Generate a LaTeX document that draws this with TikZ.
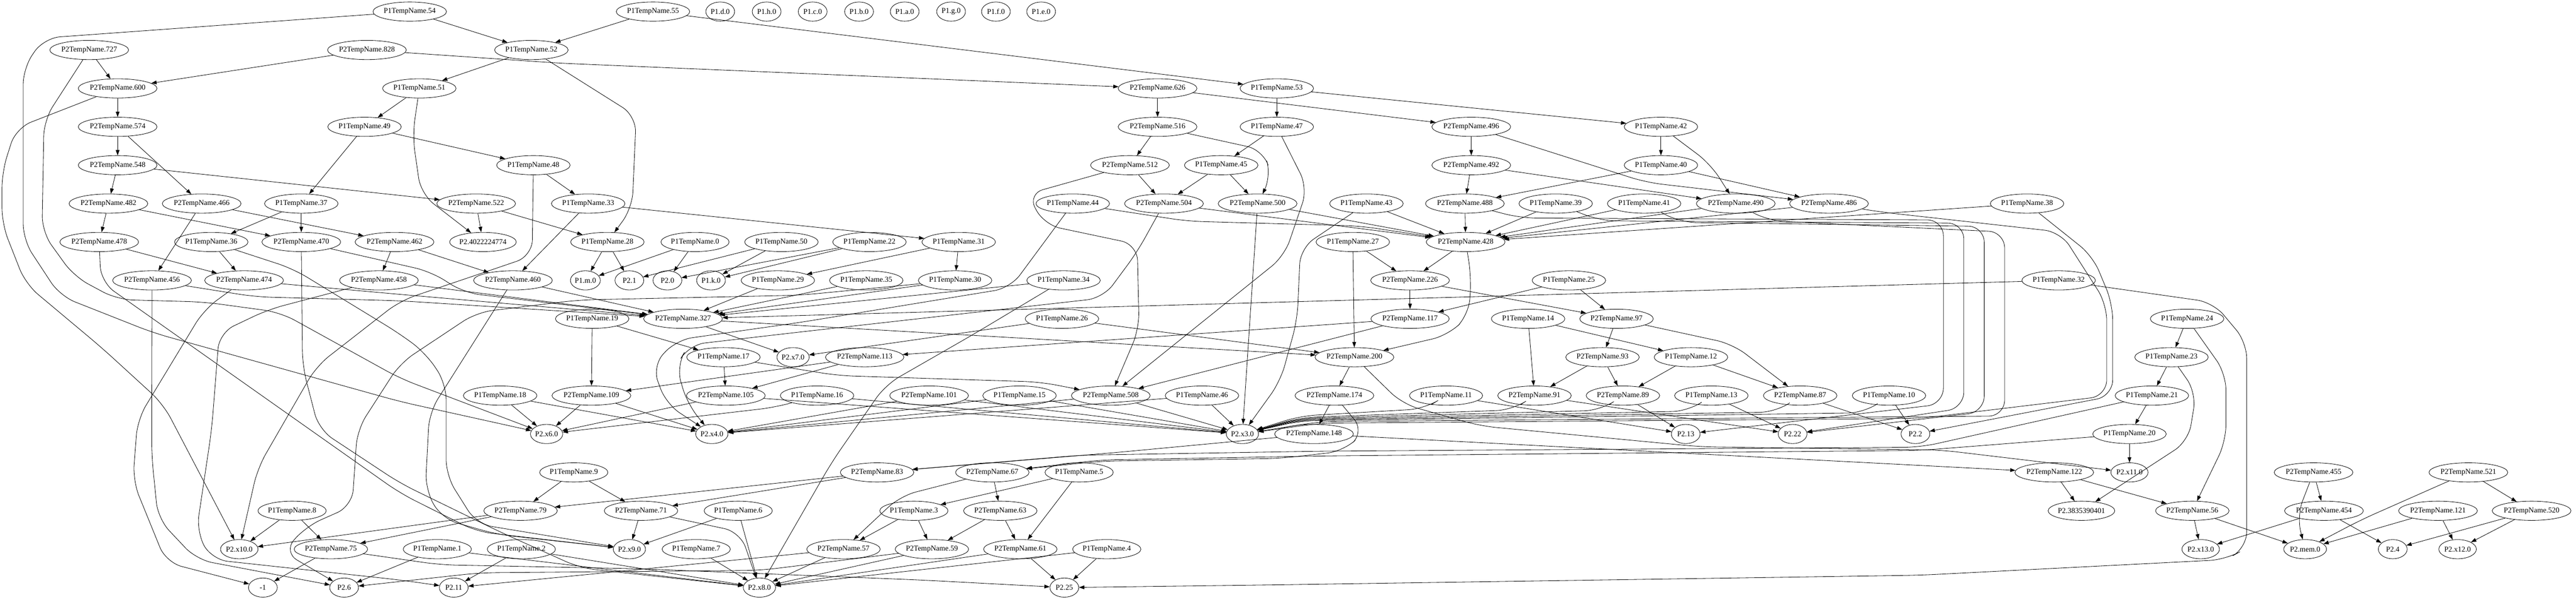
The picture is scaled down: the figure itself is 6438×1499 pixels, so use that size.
\documentclass[tikz,border=0pt]{standalone}
\usepackage{fontspec}
\setmainfont{Liberation Serif}
\usetikzlibrary{arrows.meta,shapes.geometric}
\newlength\gvtw
\newcommand\gvnode[4]{%
  \settowidth\gvtw{\fontsize{14pt}{16pt}\selectfont #4}%
  \pgfmathsetmacro\gvmw{max(54,1.286*\gvtw+21.5)}%
  \node[gvn,minimum width=\gvmw pt] (#1) at (#2,#3) {#4};}
\begin{document}
\begin{tikzpicture}[x=0.75pt,y=-0.75pt,
  gvn/.style={draw,ellipse,minimum height=36pt,inner sep=0pt,line width=0.8pt,font=\fontsize{14pt}{16pt}\selectfont},
  gve/.style={draw,line width=0.8pt,-{Triangle[length=10pt,width=7pt]}},
  gvr/.style={rounded corners=30pt}]
\useasboundingbox (0,0) rectangle (6438,1499);
% row 0
\gvnode{p54}{1024}{29}{P1TempName.54}
\gvnode{p55}{1632}{29}{P1TempName.55}
\gvnode{od}{1800}{29}{P1.d.0}
\gvnode{oh}{1916}{29}{P1.h.0}
\gvnode{oc}{2031}{29}{P1.c.0}
\gvnode{ob}{2147}{29}{P1.b.0}
\gvnode{oa}{2261}{29}{P1.a.0}
\gvnode{og}{2377}{29}{P1.g.0}
\gvnode{of}{2489}{29}{P1.f.0}
\gvnode{oe}{2602}{29}{P1.e.0}
% row 1
\gvnode{q727}{223}{125}{P2TempName.727}
\gvnode{q828}{917}{125}{P2TempName.828}
\gvnode{p52}{1328}{125}{P1TempName.52}
% row 2
\gvnode{q600}{294}{221}{P2TempName.600}
\gvnode{p51}{1048}{221}{P1TempName.51}
\gvnode{q626}{2893}{221}{P2TempName.626}
\gvnode{p53}{3191}{221}{P1TempName.53}
% row 3
\gvnode{q574}{294}{317}{P2TempName.574}
\gvnode{p49}{911}{317}{P1TempName.49}
\gvnode{q516}{2893}{317}{P2TempName.516}
\gvnode{p47}{3191}{317}{P1TempName.47}
\gvnode{q496}{3677}{317}{P2TempName.496}
\gvnode{p42}{4151}{317}{P1TempName.42}
% row 4
\gvnode{q548}{294}{413}{P2TempName.548}
\gvnode{p48}{1333}{413}{P1TempName.48}
\gvnode{q512}{2824}{413}{P2TempName.512}
\gvnode{p45}{3052}{413}{P1TempName.45}
\gvnode{q492}{3677}{413}{P2TempName.492}
\gvnode{p40}{4151}{413}{P1TempName.40}
% row 5
\gvnode{q482}{271}{509}{P2TempName.482}
\gvnode{q466}{504}{509}{P2TempName.466}
\gvnode{p37}{753}{509}{P1TempName.37}
\gvnode{q522}{1190}{509}{P2TempName.522}
\gvnode{p33}{1470}{509}{P1TempName.33}
\gvnode{p44}{2681}{509}{P1TempName.44}
\gvnode{q504}{2909}{509}{P2TempName.504}
\gvnode{q500}{3143}{509}{P2TempName.500}
\gvnode{p43}{3415}{509}{P1TempName.43}
\gvnode{q488}{3661}{509}{P2TempName.488}
\gvnode{p39}{3888}{509}{P1TempName.39}
\gvnode{p41}{4109}{509}{P1TempName.41}
\gvnode{q490}{4338}{509}{P2TempName.490}
\gvnode{q486}{4571}{509}{P2TempName.486}
\gvnode{p38}{5066}{509}{P1TempName.38}
% row 6
\gvnode{q478}{248}{605}{P2TempName.478}
\gvnode{p36}{528}{605}{P1TempName.36}
\gvnode{q470}{753}{605}{P2TempName.470}
\gvnode{q462}{986}{605}{P2TempName.462}
\gvnode{big1}{1207}{605}{P2.4022224774}
\gvnode{p28}{1518}{605}{P1TempName.28}
\gvnode{p0}{1737}{605}{P1TempName.0}
\gvnode{p50}{1953}{605}{P1TempName.50}
\gvnode{p22}{2173}{605}{P1TempName.22}
\gvnode{p31}{2396}{605}{P1TempName.31}
\gvnode{p27}{3381}{605}{P1TempName.27}
\gvnode{q428}{3663}{605}{P2TempName.428}
% row 7
\gvnode{q456}{380}{701}{P2TempName.456}
\gvnode{q474}{610}{701}{P2TempName.474}
\gvnode{q458}{947}{701}{P2TempName.458}
\gvnode{q460}{1282}{701}{P2TempName.460}
\gvnode{om}{1463}{701}{P1.m.0}
\gvnode{r1}{1573}{701}{P2.1}
\gvnode{r0}{1668}{701}{P2.0}
\gvnode{ok}{1777}{701}{P1.k.0}
\gvnode{p29}{1944}{701}{P1TempName.29}
\gvnode{p35}{2165}{701}{P1TempName.35}
\gvnode{p30}{2387}{701}{P1TempName.30}
\gvnode{p34}{2658}{701}{P1TempName.34}
\gvnode{q226}{3524}{701}{P2TempName.226}
\gvnode{p25}{3921}{701}{P1TempName.25}
\gvnode{p32}{5145}{701}{P1TempName.32}
% row 8
\gvnode{p19}{1480}{797}{P1TempName.19}
\gvnode{q327}{1707}{797}{P2TempName.327}
\gvnode{p26}{2654}{797}{P1TempName.26}
\gvnode{q117}{3524}{797}{P2TempName.117}
\gvnode{p14}{3819}{797}{P1TempName.14}
\gvnode{q97}{4040}{797}{P2TempName.97}
\gvnode{p24}{5466}{797}{P1TempName.24}
% row 9
\gvnode{p17}{1808}{893}{P1TempName.17}
\gvnode{x7}{1982}{893}{P2.x7.0}
\gvnode{q113}{2161}{893}{P2TempName.113}
\gvnode{q200}{3385}{893}{P2TempName.200}
\gvnode{q93}{4005}{893}{P2TempName.93}
\gvnode{p12}{4226}{893}{P1TempName.12}
\gvnode{p23}{5427}{893}{P1TempName.23}
% row 10
\gvnode{p18}{1250}{989}{P1TempName.18}
\gvnode{q109}{1478}{989}{P2TempName.109}
\gvnode{q105}{1814}{989}{P2TempName.105}
\gvnode{p16}{2042}{989}{P1TempName.16}
\gvnode{q101}{2322}{989}{P2TempName.101}
\gvnode{p15}{2548}{989}{P1TempName.15}
\gvnode{q508}{2776}{989}{P2TempName.508}
\gvnode{p46}{3004}{989}{P1TempName.46}
\gvnode{q174}{3335}{989}{P2TempName.174}
\gvnode{p11}{3614}{989}{P1TempName.11}
\gvnode{q91}{3835}{989}{P2TempName.91}
\gvnode{q89}{4056}{989}{P2TempName.89}
\gvnode{p13}{4277}{989}{P1TempName.13}
\gvnode{q87}{4499}{989}{P2TempName.87}
\gvnode{p10}{4721}{989}{P1TempName.10}
\gvnode{p21}{5378}{989}{P1TempName.21}
% row 11
\gvnode{x6}{1366}{1085}{P2.x6.0}
\gvnode{x4}{1779}{1085}{P2.x4.0}
\gvnode{x3}{3105}{1085}{P2.x3.0}
\gvnode{q148}{3284}{1085}{P2TempName.148}
\gvnode{r13}{4213}{1085}{P2.13}
\gvnode{r22}{4480}{1085}{P2.22}
\gvnode{r2}{4787}{1085}{P2.2}
\gvnode{p20}{5322}{1085}{P1TempName.20}
% row 12
\gvnode{p9}{1434}{1181}{P1TempName.9}
\gvnode{q83}{2192}{1181}{P2TempName.83}
\gvnode{q67}{2480}{1181}{P2TempName.67}
\gvnode{p5}{2697}{1181}{P1TempName.5}
\gvnode{q122}{5134}{1181}{P2TempName.122}
\gvnode{x11}{5322}{1181}{P2.x11.0}
\gvnode{q455}{5782}{1181}{P2TempName.455}
\gvnode{q521}{6169}{1181}{P2TempName.521}
% row 13
\gvnode{p8}{730}{1277}{P1TempName.8}
\gvnode{q79}{1301}{1277}{P2TempName.79}
\gvnode{q71}{1602}{1277}{P2TempName.71}
\gvnode{p6}{1845}{1277}{P1TempName.6}
\gvnode{p3}{2284}{1277}{P1TempName.3}
\gvnode{q63}{2500}{1277}{P2TempName.63}
\gvnode{big2}{5202}{1277}{P2.3835390401}
\gvnode{q56}{5479}{1277}{P2TempName.56}
\gvnode{q454}{5808}{1277}{P2TempName.454}
\gvnode{q121}{6093}{1277}{P2TempName.121}
\gvnode{q520}{6327}{1277}{P2TempName.520}
% row 14
\gvnode{x10}{598}{1373}{P2.x10.0}
\gvnode{q75}{827}{1373}{P2TempName.75}
\gvnode{p1}{1093}{1373}{P1TempName.1}
\gvnode{p2}{1303}{1373}{P1TempName.2}
\gvnode{x9}{1573}{1373}{P2.x9.0}
\gvnode{p7}{1740}{1373}{P1TempName.7}
\gvnode{q57}{2108}{1373}{P2TempName.57}
\gvnode{q59}{2329}{1373}{P2TempName.59}
\gvnode{q61}{2550}{1373}{P2TempName.61}
\gvnode{p4}{2766}{1373}{P1TempName.4}
\gvnode{x13}{5500}{1373}{P2.x13.0}
\gvnode{mem}{5761}{1373}{P2.mem.0}
\gvnode{r4}{5980}{1373}{P2.4}
\gvnode{x12}{6142}{1373}{P2.x12.0}
% row 15
\gvnode{m1}{657}{1469}{-1}
\gvnode{r6}{860}{1469}{P2.6}
\gvnode{r11}{1134}{1469}{P2.11}
\gvnode{x8}{1898}{1469}{P2.x8.0}
\gvnode{r25}{2660}{1469}{P2.25}
% ---------- edges ----------
\draw[gve] (p54) -- (p52);
\draw[gve,gvr] (p54) -- (110,95) -- (58,170) -- (58,600) -- (150,740) -- (383,832) -- (1000,1004) -- (x6);
\draw[gve] (p55) -- (p52);
\draw[gve] (p55) -- (p53);
\draw[gve] (q727) -- (q600);
\draw[gve,gvr] (q727) -- (110,300) -- (105,580) -- (185,691) -- (293,749) -- (510,755) -- (701,781) -- (1000,946) -- (x6);
\draw[gve] (q828) -- (q600);
\draw[gve,gvr] (q828) -- (1400,158) -- (q626);
\draw[gve] (p52) -- (p51);
\draw[gve,gvr] (p52) -- (1590,290) -- (1580,520) -- (p28);
\draw[gve] (q600) -- (q574);
\draw[gve,gvr] (q600) -- (40,320) -- (5,430) -- (5,560) -- (64,710) -- (255,870) -- (408,1010) -- (x10);
\draw[gve] (p51) -- (p49);
\draw[gve,gvr] (p51) -- (1031,339) -- (1052,485) -- (big1);
\draw[gve] (q626) -- (q516);
\draw[gve] (q626) -- (q496);
\draw[gve] (p53) -- (p47);
\draw[gve] (p53) -- (p42);
\draw[gve] (q574) -- (q548);
\draw[gve] (q574) -- (q466);
\draw[gve] (p49) -- (p37);
\draw[gve] (p49) -- (p48);
\draw[gve] (q516) -- (q512);
\draw[gve,gvr] (q516) -- (3157,375) -- (3178,440) -- (q500);
\draw[gve] (p47) -- (p45);
\draw[gve,gvr] (p47) -- (3268,470) -- (3210,640) -- (q508);
\draw[gve] (q496) -- (q492);
\draw[gve,gvr] (q496) -- (4114,456) -- (q486);
\draw[gve] (p42) -- (p40);
\draw[gve,gvr] (p42) -- (4275,410) -- (q490);
\draw[gve] (q548) -- (q482);
\draw[gve] (q548) -- (q522);
\draw[gve] (p48) -- (p33);
\draw[gve,gvr] (p48) -- (1330,640) -- (1210,681) -- (1000,752) -- (791,915) -- (644,1170) -- (x10);
\draw[gve] (q512) -- (q504);
\draw[gve,gvr] (q512) -- (2568,485) -- (2610,562) -- (2842,611) -- (2847,822) -- (q508);
\draw[gve] (p45) -- (q504);
\draw[gve] (p45) -- (q500);
\draw[gve] (q492) -- (q488);
\draw[gve] (q492) -- (q490);
\draw[gve] (p40) -- (q488);
\draw[gve] (p40) -- (q486);
% row 5 sources
\draw[gve] (q482) -- (q478);
\draw[gve] (q482) -- (q470);
\draw[gve] (q466) -- (q456);
\draw[gve] (q466) -- (q462);
\draw[gve] (p37) -- (p36);
\draw[gve] (p37) -- (q470);
\draw[gve] (q522) -- (big1);
\draw[gve] (q522) -- (p28);
\draw[gve] (p33) -- (q460);
\draw[gve] (p33) -- (p31);
\draw[gve,gvr] (p44) -- (2968,553) -- (3400,565) -- (q428);
\draw[gve,gvr] (p44) -- (2525,720) -- (2000,806) -- (1690,850) -- (1630,915) -- (1665,1010) -- (x4);
\draw[gve] (q504) -- (q428);
\draw[gve,gvr] (q504) -- (2842,630) -- (2757,745) -- (2000,830) -- (1722,862) -- (1690,915) -- (1718,1010) -- (x4);
\draw[gve] (q500) -- (q428);
\draw[gve] (q500) -- (x3);
\draw[gve] (p43) -- (q428);
\draw[gve,gvr] (p43) -- (3250,620) -- (3242,800) -- (3200,953) -- (x3);
\draw[gve] (q488) -- (q428);
\draw[gve,gvr] (q488) -- (3800,545) -- (4857,550) -- (4857,1010) -- (r13);
\draw[gve] (p39) -- (q428);
\draw[gve,gvr] (p39) -- (4000,552) -- (4908,558) -- (4908,1020) -- (r22);
\draw[gve] (p41) -- (q428);
\draw[gve,gvr] (p41) -- (4200,556) -- (4959,566) -- (4959,1030) -- (r22);
\draw[gve] (q490) -- (q428);
\draw[gve,gvr] (q490) -- (4420,552) -- (5010,580) -- (5010,1040) -- (3300,1054) -- (x3);
\draw[gve] (q486) -- (q428);
\draw[gve,gvr] (q486) -- (4700,530) -- (5150,580) -- (5265,760) -- (5265,990) -- (4800,1046) -- (3300,1058) -- (x3);
\draw[gve] (p38) -- (q428);
\draw[gve,gvr] (p38) -- (5230,640) -- (5280,760) -- (5280,990) -- (r2);
% row 6 sources
\draw[gve] (q478) -- (q474);
\draw[gve,gvr] (q478) -- (252,705) -- (1000,1233) -- (1191,1329) -- (x9);
\draw[gve] (p36) -- (q474);
\draw[gve,gvr] (p36) -- (733,672) -- (1000,835) -- (1064,883) -- (1115,959) -- (1115,1189) -- (1191,1310) -- (x9);
\draw[gve,gvr] (q470) -- (1077,679) -- (1160,732) -- (q327);
\draw[gve,gvr] (q470) -- (756,915) -- (797,1074) -- (1000,1208) -- (1250,1330) -- (1450,1420) -- (x8);
\draw[gve] (q462) -- (q458);
\draw[gve] (q462) -- (q460);
\draw[gve] (p28) -- (om);
\draw[gve] (p28) -- (r1);
\draw[gve] (p0) -- (om);
\draw[gve] (p0) -- (r0);
\draw[gve] (p50) -- (r1);
\draw[gve] (p50) -- (ok);
\draw[gve] (p22) -- (r0);
\draw[gve] (p22) -- (ok);
\draw[gve] (p31) -- (p29);
\draw[gve] (p31) -- (p30);
\draw[gve] (p27) -- (q226);
\draw[gve] (p27) -- (q200);
\draw[gve] (q428) -- (q226);
\draw[gve,gvr] (q428) -- (3677,691) -- (3671,787) -- (3620,838) -- (q200);
% row 7 sources
\draw[gve,gvr] (q456) -- (638,742) -- (1000,752) -- (q327);
\draw[gve,gvr] (q456) -- (379,1138) -- (395,1297) -- (491,1399) -- (r6);
\draw[gve,gvr] (q474) -- (1000,736) -- (q327);
\draw[gve,gvr] (q474) -- (510,774) -- (344,1048) -- (332,1202) -- (415,1406) -- (m1);
\draw[gve] (q458) -- (q327);
\draw[gve,gvr] (q458) -- (670,774) -- (548,832) -- (529,1074) -- (491,1329) -- (529,1399) -- (1000,1450) -- (r11);
\draw[gve] (q460) -- (q327);
\draw[gve,gvr] (q460) -- (1073,1031) -- (1063,1225) -- (1105,1297) -- (1242,1336) -- (x9);
\draw[gve] (p29) -- (q327);
\draw[gve] (p35) -- (q327);
\draw[gve] (p30) -- (q327);
\draw[gve,gvr] (p30) -- (2000,738) -- (1446,750) -- (1191,781) -- (1000,908) -- (893,1074) -- (880,1265) -- (765,1316) -- (708,1380) -- (r6);
\draw[gve] (p34) -- (q327);
\draw[gve,gvr] (p34) -- (2436,834) -- (2213,962) -- (2079,1155) -- (x8);
\draw[gve] (q226) -- (q117);
\draw[gve] (q226) -- (q97);
\draw[gve] (p25) -- (q117);
\draw[gve] (p25) -- (q97);
\draw[gve] (p32) -- (q327);
\draw[gve,gvr] (p32) -- (5531,756) -- (5615,856) -- (5615,1370) -- (5563,1399) -- (4800,1438) -- (3200,1462) -- (r25);
% row 8 sources
\draw[gve] (p19) -- (p17);
\draw[gve] (p19) -- (q109);
\draw[gve] (q327) -- (x7);
\draw[gve] (q327) -- (q200);
\draw[gve] (p26) -- (x7);
\draw[gve] (p26) -- (q200);
\draw[gve] (q117) -- (q113);
\draw[gve] (q117) -- (q508);
\draw[gve] (p14) -- (q91);
\draw[gve] (p14) -- (p12);
\draw[gve] (q97) -- (q93);
\draw[gve,gvr] (q97) -- (4330,860) -- (q87);
\draw[gve] (p24) -- (p23);
\draw[gve,gvr] (p24) -- (5563,934) -- (5563,1103) -- (q56);
% row 9 sources
\draw[gve] (p17) -- (q105);
\draw[gve,gvr] (p17) -- (2095,939) -- (2600,955) -- (q508);
\draw[gve] (q113) -- (q109);
\draw[gve] (q113) -- (q105);
\draw[gve] (q200) -- (q174);
\draw[gve,gvr] (q200) -- (3505,1010) -- (3700,1065) -- (4250,1117) -- (4850,1125) -- (x11);
\draw[gve] (q93) -- (q91);
\draw[gve] (q93) -- (q89);
\draw[gve] (p12) -- (q89);
\draw[gve] (p12) -- (q87);
\draw[gve] (p23) -- (p21);
\draw[gve,gvr] (p23) -- (5489,982) -- (5469,1103) -- (big2);
% row 10 sources
\draw[gve] (p18) -- (x6);
\draw[gve] (p18) -- (x4);
\draw[gve] (q109) -- (x6);
\draw[gve] (q109) -- (x4);
\draw[gve] (q105) -- (x6);
\draw[gve] (q105) -- (x3);
\draw[gve,gvr] (p16) -- (1940,1018) -- (x6);
\draw[gve] (p16) -- (x3);
\draw[gve] (q101) -- (x4);
\draw[gve] (q101) -- (x3);
\draw[gve] (p15) -- (x4);
\draw[gve] (p15) -- (x3);
\draw[gve] (q508) -- (x4);
\draw[gve] (q508) -- (x3);
\draw[gve] (p46) -- (x4);
\draw[gve] (p46) -- (x3);
\draw[gve] (q174) -- (q148);
\draw[gve,gvr] (q174) -- (3410,1079) -- (3358,1128) -- (3200,1146) -- (2750,1153) -- (q67);
\draw[gve] (p11) -- (r13);
\draw[gve,gvr] (p11) -- (3560,1022) -- (3250,1040) -- (x3);
\draw[gve] (q91) -- (r22);
\draw[gve,gvr] (q91) -- (3780,1025) -- (3250,1044) -- (x3);
\draw[gve] (q89) -- (r13);
\draw[gve,gvr] (q89) -- (4000,1026) -- (3250,1046) -- (x3);
\draw[gve] (p13) -- (r22);
\draw[gve,gvr] (p13) -- (4220,1028) -- (3250,1048) -- (x3);
\draw[gve] (q87) -- (r2);
\draw[gve,gvr] (q87) -- (4440,1030) -- (3250,1050) -- (x3);
\draw[gve] (p10) -- (r2);
\draw[gve,gvr] (p10) -- (4660,1032) -- (3250,1052) -- (x3);
\draw[gve] (p21) -- (p20);
\draw[gve,gvr] (p21) -- (4800,1118) -- (3300,1128) -- (2700,1138) -- (q83);
% row 11 sources
\draw[gve] (q148) -- (q122);
\draw[gve,gvr] (q148) -- (2793,1131) -- (q83);
\draw[gve] (p20) -- (x11);
\draw[gve,gvr] (p20) -- (4800,1126) -- (3300,1140) -- (2750,1150) -- (q67);
% row 12 sources
\draw[gve] (p9) -- (q79);
\draw[gve] (p9) -- (q71);
\draw[gve] (q83) -- (q79);
\draw[gve] (q83) -- (q71);
\draw[gve,gvr] (q67) -- (2250,1240) -- (q57);
\draw[gve] (q67) -- (q63);
\draw[gve] (p5) -- (p3);
\draw[gve] (p5) -- (q61);
\draw[gve] (q122) -- (big2);
\draw[gve] (q122) -- (q56);
\draw[gve,gvr] (q455) -- (5740,1290) -- (mem);
\draw[gve] (q455) -- (q454);
\draw[gve,gvr] (q521) -- (5900,1300) -- (mem);
\draw[gve] (q521) -- (q520);
% row 13 sources
\draw[gve] (p8) -- (x10);
\draw[gve] (p8) -- (q75);
\draw[gve] (q79) -- (x10);
\draw[gve] (q79) -- (q75);
\draw[gve] (q71) -- (x9);
\draw[gve,gvr] (q71) -- (1850,1330) -- (x8);
\draw[gve] (p6) -- (x9);
\draw[gve] (p6) -- (x8);
\draw[gve] (p3) -- (q57);
\draw[gve] (p3) -- (q59);
\draw[gve] (q63) -- (q59);
\draw[gve] (q63) -- (q61);
\draw[gve] (q56) -- (x13);
\draw[gve] (q56) -- (mem);
\draw[gve] (q454) -- (x13);
\draw[gve] (q454) -- (r4);
\draw[gve] (q121) -- (mem);
\draw[gve] (q121) -- (x12);
\draw[gve] (q520) -- (r4);
\draw[gve] (q520) -- (x12);
% row 14 sources
\draw[gve] (q75) -- (m1);
\draw[gve,gvr] (q75) -- (1100,1412) -- (1600,1422) -- (2300,1450) -- (r25);
\draw[gve] (p1) -- (r6);
\draw[gve] (p1) -- (x8);
\draw[gve] (p2) -- (r11);
\draw[gve] (p2) -- (x8);
\draw[gve] (p7) -- (x8);
\draw[gve] (q57) -- (x8);
\draw[gve,gvr] (q57) -- (1900,1394) -- (r11);
\draw[gve] (q59) -- (x8);
\draw[gve,gvr] (q59) -- (1900,1426) -- (1200,1432) -- (r6);
\draw[gve] (q61) -- (x8);
\draw[gve] (q61) -- (r25);
\draw[gve] (p4) -- (x8);
\draw[gve] (p4) -- (r25);
\end{tikzpicture}
\end{document}
